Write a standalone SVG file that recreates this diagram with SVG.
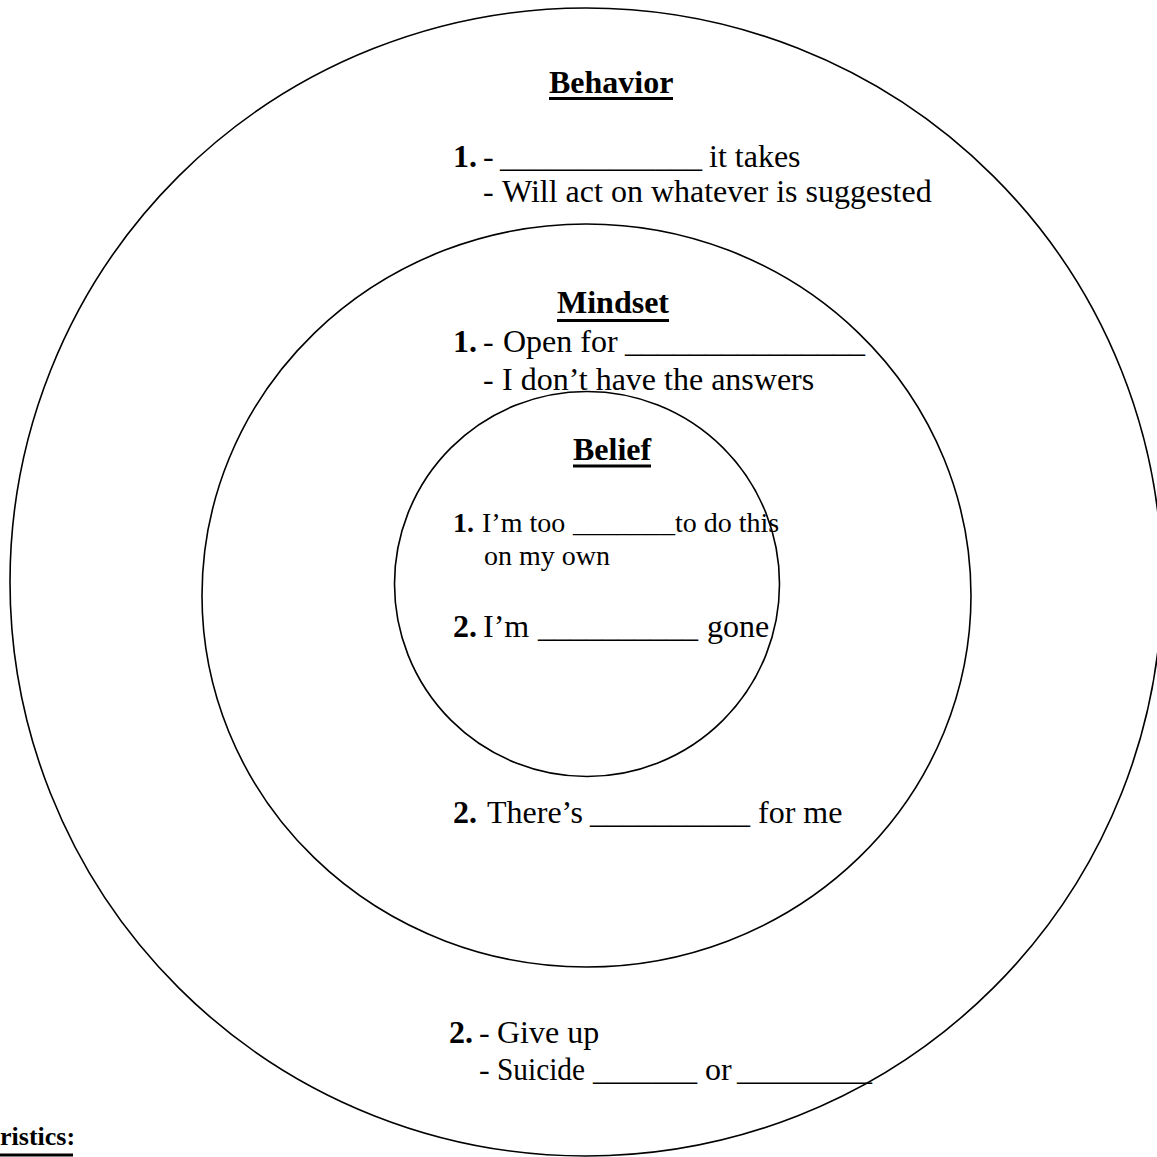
<svg xmlns="http://www.w3.org/2000/svg" width="1157" height="1157" viewBox="0 0 1157 1157">
<style>
.ring{fill:none;stroke:#000;stroke-width:1.6}
text{font-family:"Liberation Serif","Times New Roman",serif;fill:#000;font-size:32px}
.b{font-weight:bold}
.s{font-size:28px}
.ul{stroke:#000;stroke-width:3}
</style>
<rect width="1157" height="1157" fill="#fff"/>
<g id="behavior">
<ellipse class="ring" cx="586" cy="582" rx="576" ry="574"/>
<text class="b" x="549" y="93">Behavior</text>
<line class="ul" x1="549" y1="98.5" x2="673" y2="98.5"/>
<text y="167"><tspan class="b" x="453">1.</tspan><tspan x="483">-</tspan><tspan x="500" textLength="202" lengthAdjust="spacingAndGlyphs">_____________</tspan><tspan x="709">it takes</tspan></text>
<text y="202"><tspan x="483">-</tspan><tspan x="502">Will act on whatever is suggested</tspan></text>
<text y="1043"><tspan class="b" x="449">2.</tspan><tspan x="479">-</tspan><tspan x="497">Give up</tspan></text>
<text y="1080"><tspan x="479">-</tspan><tspan x="497" textLength="88" lengthAdjust="spacingAndGlyphs">Suicide</tspan><tspan x="593" textLength="104" lengthAdjust="spacingAndGlyphs">_______</tspan><tspan x="705">or</tspan><tspan x="737" textLength="135" lengthAdjust="spacingAndGlyphs">_________</tspan></text>
</g>
<g id="mindset">
<ellipse class="ring" cx="586.5" cy="595.5" rx="384.5" ry="371.5"/>
<text class="b" x="557" y="313">Mindset</text>
<line class="ul" x1="557" y1="320.5" x2="669" y2="320.5"/>
<text y="352"><tspan class="b" x="453">1.</tspan><tspan x="483">-</tspan><tspan x="503">Open for</tspan><tspan x="625" textLength="240" lengthAdjust="spacingAndGlyphs">_______________</tspan></text>
<text y="390"><tspan x="483">-</tspan><tspan x="502">I don’t have the answers</tspan></text>
<text y="823"><tspan class="b" x="453">2.</tspan><tspan x="487">There’s</tspan><tspan x="590" textLength="160" lengthAdjust="spacingAndGlyphs">__________</tspan><tspan x="758">for me</tspan></text>
</g>
<g id="belief">
<circle class="ring" cx="587" cy="584" r="192.5"/>
<text class="b" x="573" y="460">Belief</text>
<line class="ul" x1="573" y1="466" x2="651" y2="466"/>
<text class="s" y="532"><tspan class="b" x="453">1.</tspan><tspan x="482">I’m too</tspan><tspan x="573" textLength="102" lengthAdjust="spacingAndGlyphs">_______</tspan><tspan x="675">to do this</tspan></text>
<text class="s" x="484" y="565">on my own</text>
<text y="637"><tspan class="b" x="453">2.</tspan><tspan x="483">I’m</tspan><tspan x="538" textLength="160" lengthAdjust="spacingAndGlyphs">__________</tspan><tspan x="707">gone</tspan></text>
</g>
<g id="characteristics">
<text class="b" x="0" y="1145" style="font-size:26px">ristics:</text>
<line class="ul" x1="0" y1="1155" x2="73" y2="1155"/>
</g>
</svg>
